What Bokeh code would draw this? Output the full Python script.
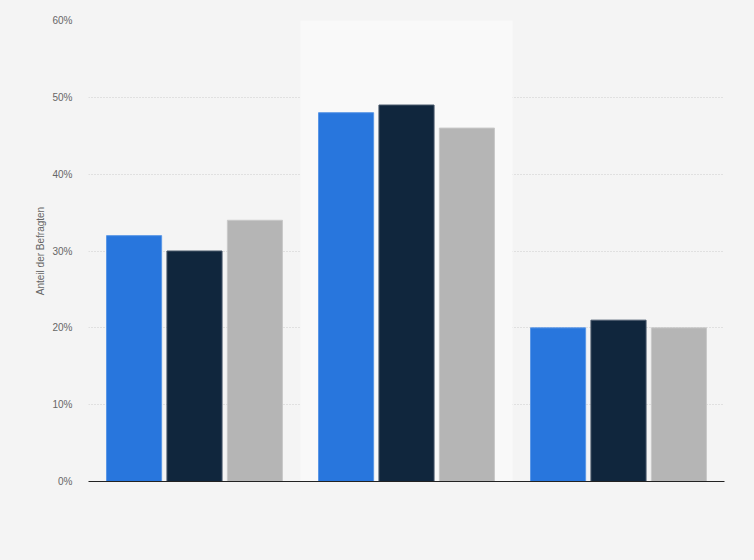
from bokeh.plotting import figure
from bokeh.models import Range1d, BoxAnnotation, ColumnDataSource, PrintfTickFormatter, FixedTicker
from bokeh.transform import dodge
from bokeh.embed import file_html
from bokeh.resources import INLINE

# Data (three unnamed groups, three series each)
group_pos = [0.5, 1.5, 2.5]
series_a = [32, 48, 20]   # blue
series_b = [30, 49, 21]   # navy
series_c = [34, 46, 20]   # grey
y_ticks = [0, 10, 20, 30, 40, 50, 60]
y_label = "Anteil der Befragten"

BG = "#f4f4f4"
p = figure(width=754, height=560, output_backend="svg", toolbar_location=None,
           x_range=Range1d(0, 3), y_range=Range1d(0, 60),
           background_fill_color=BG, border_fill_color=BG,
           min_border_left=88, min_border_right=30, min_border_top=20, min_border_bottom=79)
p.outline_line_color = None

p.add_layout(BoxAnnotation(left=1, right=2, fill_color="#f9f9f9", fill_alpha=1.0,
                           line_color=None, level="underlay"))

src = ColumnDataSource(dict(x=group_pos, a=series_a, b=series_b, c=series_c))
w = 0.26
p.vbar(x=dodge("x", -0.285, range=p.x_range), top="a", width=w, source=src,
       fill_color="#2876dd", line_color="#5b97e6", line_width=1)
p.vbar(x=dodge("x", 0.0, range=p.x_range), top="b", width=w, source=src,
       fill_color="#10263d", line_color="#48586a", line_width=1)
p.vbar(x=dodge("x", 0.285, range=p.x_range), top="c", width=w, source=src,
       fill_color="#b5b5b5", line_color="#c9c9c9", line_width=1)

# axes
p.yaxis.ticker = FixedTicker(ticks=y_ticks)
p.yaxis.formatter = PrintfTickFormatter(format="%d%%")
p.yaxis.axis_line_color = None
p.yaxis.major_tick_line_color = None
p.yaxis.minor_tick_line_color = None
p.yaxis.major_label_text_font = "Liberation Sans"
p.yaxis.major_label_text_font_size = "10px"
p.yaxis.major_label_text_color = "#666666"
p.yaxis.major_label_standoff = 10
p.yaxis.axis_label = y_label
p.yaxis.axis_label_text_font = "Liberation Sans"
p.yaxis.axis_label_text_font_size = "10px"
p.yaxis.axis_label_text_font_style = "normal"
p.yaxis.axis_label_text_color = "#666666"
p.yaxis.axis_label_standoff = 3

p.xaxis.ticker = FixedTicker(ticks=[])
p.xaxis.axis_line_color = "#222222"
p.xaxis.axis_line_width = 1
p.xaxis.major_tick_line_color = None
p.xaxis.minor_tick_line_color = None
p.xaxis.major_label_text_font_size = "0px"

p.xgrid.grid_line_color = None
p.ygrid.ticker = FixedTicker(ticks=y_ticks)
p.ygrid.grid_line_color = "#cccccc"
p.ygrid.grid_line_dash = "1 2"
p.ygrid.grid_line_width = 1

html = file_html(p, INLINE)
html = html.replace("<head>", "<head><style>html,body{background:#f4f4f4;margin:0;padding:0;}</style>", 1)
open("out.html", "w").write(html)
